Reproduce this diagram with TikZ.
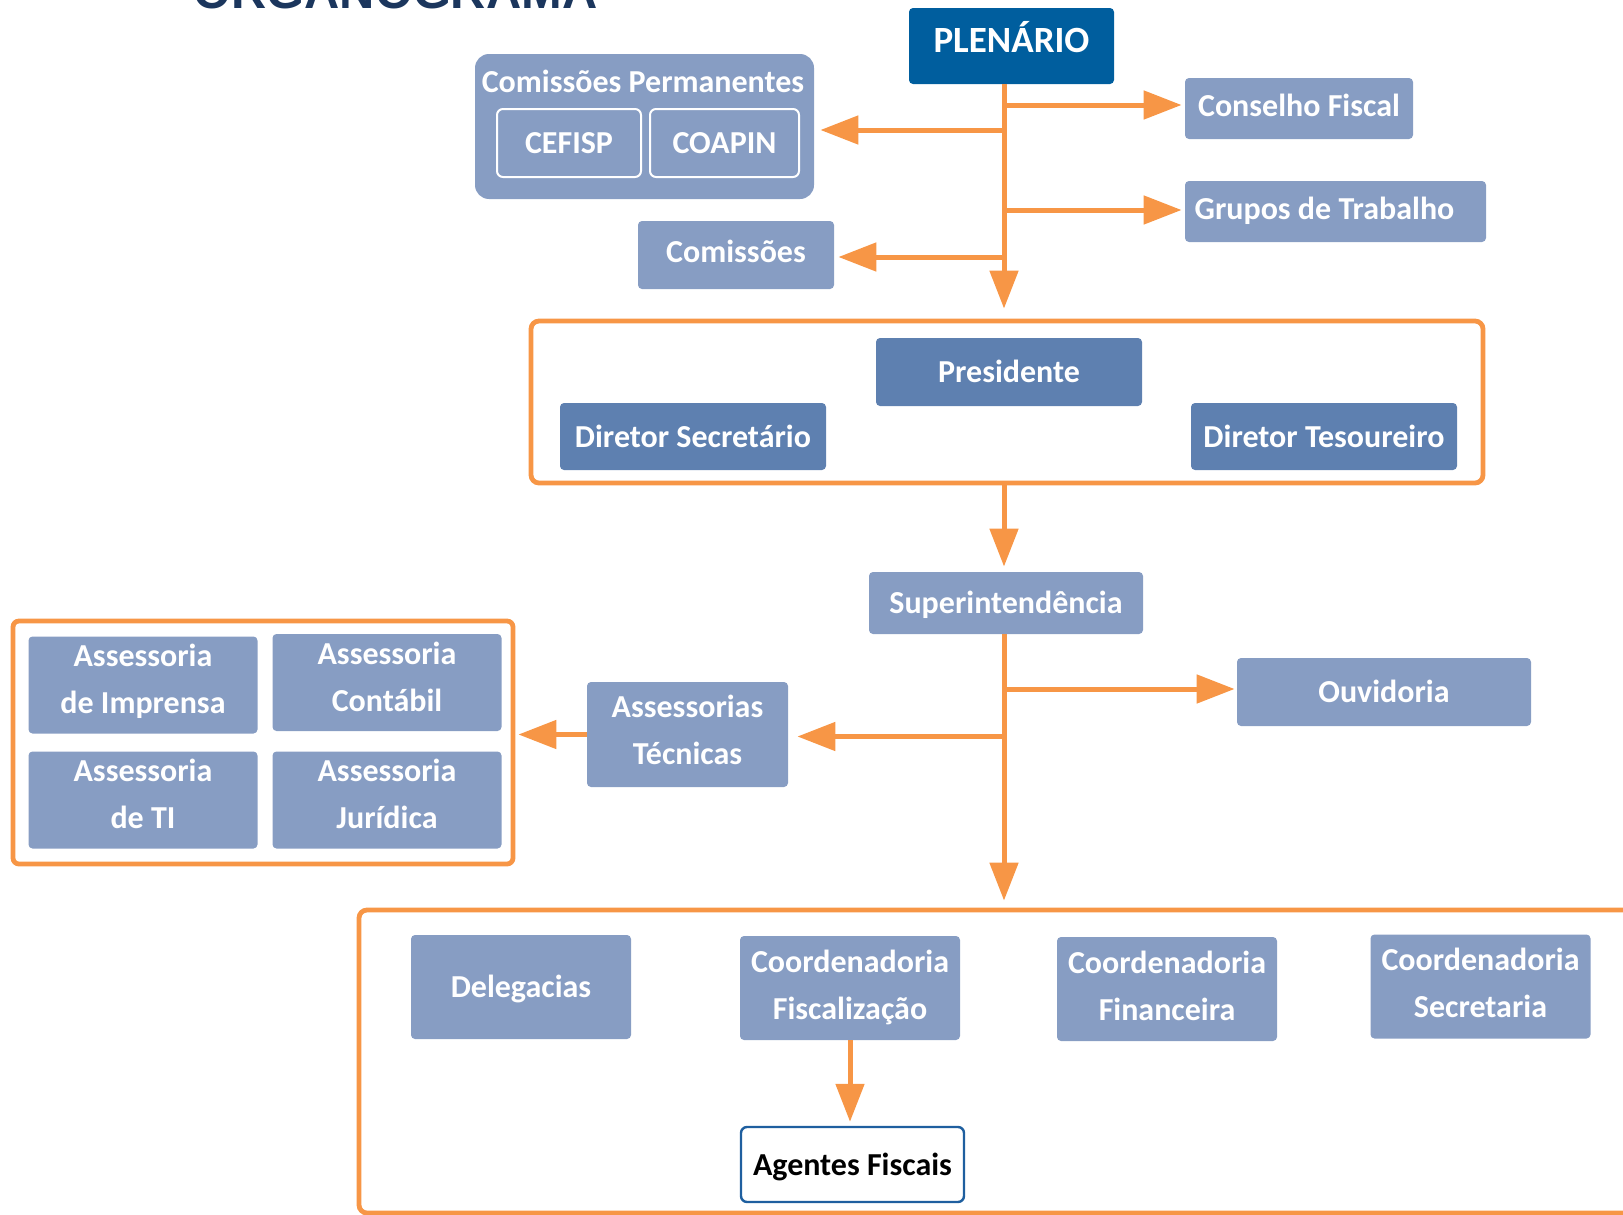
\documentclass[tikz,border=0pt]{standalone}
\usepackage{fontspec}
\setmainfont{Carlito}
\newfontfamily\titlefont{Liberation Sans}
\usetikzlibrary{arrows.meta}

\definecolor{orgorange}{RGB}{247,150,70}
\definecolor{orglight}{RGB}{135,157,195}
\definecolor{orgmid}{RGB}{94,128,176}
\definecolor{orgdark}{RGB}{0,94,158}
\definecolor{orgnavy}{RGB}{27,54,93}
\definecolor{orgline}{RGB}{31,95,159}

\tikzstyle{unit}=[%
	rectangle, rounded corners=2pt, fill=orglight, text=white,
	font=\bfseries\fontsize{16}{23.5}\selectfont, align=center, inner sep=0pt,
	text height=12pt, text depth=1.5pt
]
\tikzstyle{twoline}=[text height=35pt, text depth=5.5pt]
\tikzstyle{board}=[unit, fill=orgmid]
\tikzstyle{subunit}=[unit, draw=white, line width=1pt, rounded corners=3pt]
\tikzstyle{frame}=[draw=orgorange, line width=2.4pt, rounded corners=4pt, inner sep=0pt]
\tikzstyle{link}=[%
	draw=orgorange, line width=2.5pt,
	-{Triangle[length=19pt,width=14pt]}
]

\begin{document}
\begin{tikzpicture}[x=0.5pt, y=-0.5pt]
	\useasboundingbox (0,0) rectangle (1623,1215);

	% Title
	\node[anchor=base west, inner sep=0pt, text=orgnavy,
		font=\titlefont\bfseries\fontsize{24.4}{28}\selectfont] (title) at (193,9) {ORGANOGRAMA};

	% Top level
	\node[unit, fill=orgdark, font=\bfseries\fontsize{18.5}{22}\selectfont, text height=13pt, text depth=6.7pt,
		minimum width=102.5pt, minimum height=38pt] (plen) at (1011.5,46) {PLENÁRIO};
	\node[unit, rounded corners=7pt, minimum width=169.5pt, minimum height=72.5pt] (comperm) at (644.5,126.5) {};
	\node[text=white, font=\bfseries\fontsize{16}{20}\selectfont, inner sep=0pt] (permtitle) at (643,81) {Comissões Permanentes};
	\node[subunit, minimum width=72pt, minimum height=34pt] (cefisp) at (569,143) {CEFISP};
	\node[subunit, minimum width=74.5pt, minimum height=34pt] (coapin) at (724.5,143) {COAPIN};
	\node[unit, text depth=5pt, minimum width=98pt, minimum height=34pt] (comissoes) at (736,255) {Comissões};
	\node[unit, text depth=4pt, minimum width=114pt, minimum height=30.5pt] (conselho) at (1299,108.5) {Conselho Fiscal};
	\node[unit, text depth=4pt, minimum width=150.5pt, minimum height=30.5pt] (grupos) at (1335.5,211.5) {Grupos de Trabalho\hspace*{11pt}};

	% Diretoria
	\node[frame, minimum width=476pt, minimum height=81pt] (diretoria) at (1007,402) {};
	\node[board, minimum width=133pt, minimum height=34pt] (presidente) at (1009,372) {Presidente};
	\node[board, minimum width=133pt, minimum height=33.5pt] (dirsec) at (693,436.5) {Diretor Secretário};
	\node[board, minimum width=133pt, minimum height=33.5pt] (dirtes) at (1324,436.5) {Diretor Tesoureiro};

	% Superintendencia
	\node[unit, minimum width=137pt, minimum height=31pt] (super) at (1006,603) {Superintendência};
	\node[unit, minimum width=147pt, minimum height=34pt] (ouvidoria) at (1384,692) {Ouvidoria};
	\node[unit, twoline, minimum width=100.5pt, minimum height=52.5pt] (asstec) at (687.5,734.5) {Assessorias\\Técnicas};

	% Assessorias
	\node[frame, rounded corners=3pt, minimum width=250pt, minimum height=121.5pt] (assessorias) at (263,742.5) {};
	\foreach \name/\x/\y/\label in {%
		assimp/143/685/{Assessoria\\de Imprensa},
		asscont/387/682.5/{Assessoria\\Contábil},
		assti/143/800/{Assessoria\\de TI},
		assjur/387/800/{Assessoria\\Jurídica}} {
		\node[unit, twoline, text depth=6.5pt, minimum width=114.5pt, minimum height=48.5pt] (\name) at (\x,\y) {\label};
	}

	% Coordenadorias
	\node[frame, minimum width=645.5pt, minimum height=151.5pt] (operacao) at (1004.5,1061.5) {};
	\node[unit, minimum width=110pt, minimum height=52pt] (deleg) at (521,987) {Delegacias};
	\foreach \name/\x/\y/\label in {%
		coordfisc/850/988/{Coordenadoria\\Fiscalização},
		coordfin/1167/989/{Coordenadoria\\Financeira},
		coordsec/1480.5/986.5/{Coordenadoria\\Secretaria}} {
		\node[unit, twoline, text depth=4pt, minimum width=110pt, minimum height=52pt] (\name) at (\x,\y) {\label};
	}
	\node[unit, fill=white, draw=orgline, line width=1.2pt, rounded corners=3pt, text=black,
		minimum width=111.5pt, minimum height=37.5pt] (agentes) at (852.5,1164.5) {Agentes Fiscais};

	% Connectors
	\coordinate (trunk) at (1004,0);
	\draw[link, shorten >=5pt] (plen.south -| trunk) -- (diretoria.north -| trunk);
	\draw[link, shorten >=1.5pt] ([yshift=1.75pt]trunk |- conselho.west) -- ([yshift=1.75pt]conselho.west);
	\draw[link, shorten >=1.5pt] ([yshift=0.75pt]trunk |- grupos.west) -- ([yshift=0.75pt]grupos.west);
	\draw[link, shorten >=3pt] ([yshift=-1.75pt]trunk |- comperm.east) -- ([yshift=-1.75pt]comperm.east);
	\draw[link, shorten >=2pt] ([yshift=-1pt]trunk |- comissoes.east) -- ([yshift=-1pt]comissoes.east);
	\draw[link, shorten >=2.5pt] (diretoria.south -| trunk) -- (super.north -| trunk);
	\draw[link, shorten >=3.5pt] (super.south -| trunk) -- (operacao.north -| trunk);
	\draw[link, shorten >=1pt] ([yshift=1.5pt]trunk |- ouvidoria.west) -- ([yshift=1.5pt]ouvidoria.west);
	\draw[link, shorten >=4.5pt] ([yshift=-1pt]trunk |- asstec.east) -- ([yshift=-1pt]asstec.east);
	\draw[link, shorten >=1.5pt] (asstec.west) -- (asstec.west -| assessorias.east);
	\draw[link, shorten >=2pt] (coordfisc.south) -- (coordfisc.south |- agentes.north);

\end{tikzpicture}
\end{document}
